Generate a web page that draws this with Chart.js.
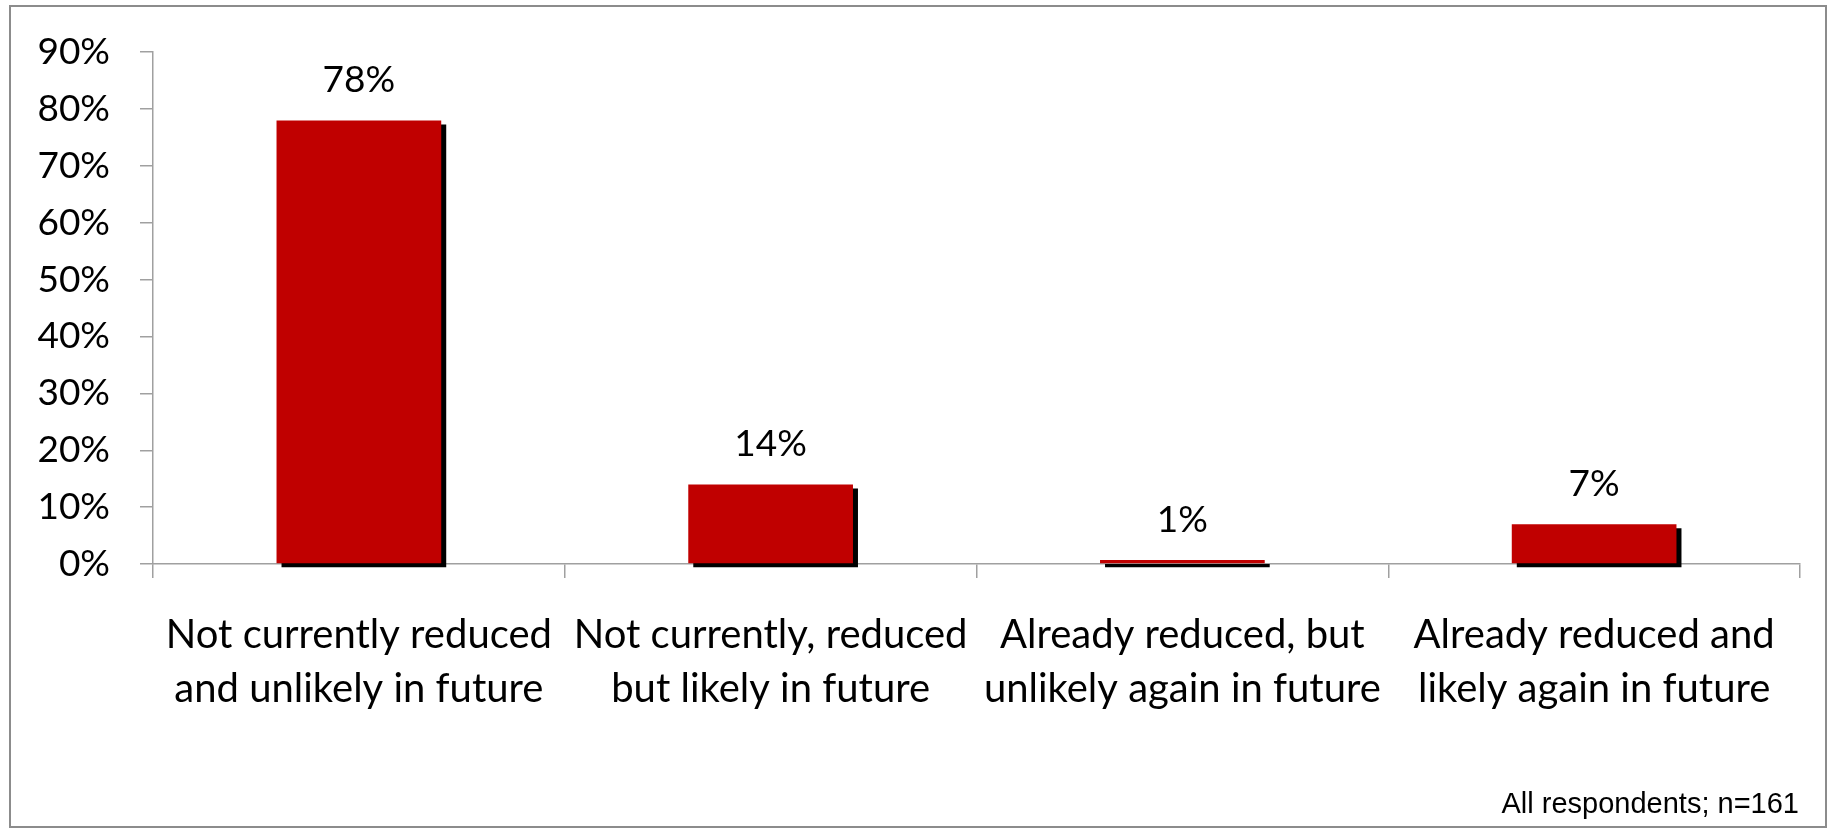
<!DOCTYPE html>
<html>
<head>
<meta charset="utf-8">
<script src="https://cdn.jsdelivr.net/npm/chart.js@4/dist/chart.umd.min.js"></script>
<style>
  html, body { margin: 0; padding: 0; background: #fff; }
  #wrap { position: relative; width: 1833px; height: 833px; }
  #frame { position: absolute; left: 9px; top: 5px; width: 1818px; height: 823px; border: 2px solid #8c8c8c; box-sizing: border-box; pointer-events: none; }
  #note { position: absolute; right: 34px; top: 787px; font: 29px "Liberation Sans", Arial, sans-serif; color: #000; white-space: nowrap; }
</style>
</head>
<body>
<div id="wrap">
  <canvas id="chart" width="1833" height="833"></canvas>
  <div id="frame"></div>
  <div id="note">All respondents; n=161</div>
</div>
<script>
(function () {
  'use strict';

  const categories = [
    ['Not currently reduced', 'and unlikely in future'],
    ['Not currently, reduced', 'but likely in future'],
    ['Already reduced, but', 'unlikely again in future'],
    ['Already reduced and', 'likely again in future'],
  ];
  const shares = [78, 14, 0.7, 7];
  const shareLabels = ['78%', '14%', '1%', '7%'];
  const yTicks = [0, 10, 20, 30, 40, 50, 60, 70, 80, 90];

  const barRed = '#c00000';
  const axisGrey = '#a0a0a0';
  const labelFont = 'Lato';

  // black drop shadow behind the bars, like the office chart
  const barShadow = {
    id: 'barShadow',
    beforeDatasetsDraw(chart) {
      const ctx = chart.ctx;
      ctx.save();
      ctx.shadowColor = '#000';
      ctx.shadowBlur = 0;
      ctx.shadowOffsetX = 5;
      ctx.shadowOffsetY = 4;
    },
    afterDatasetsDraw(chart) {
      chart.ctx.restore();
    },
  };

  const valueLabels = {
    id: 'valueLabels',
    afterDraw(chart) {
      const ctx = chart.ctx;
      const meta = chart.getDatasetMeta(0);
      ctx.save();
      ctx.fillStyle = '#000';
      ctx.font = '37px ' + labelFont;
      ctx.textAlign = 'center';
      ctx.textBaseline = 'alphabetic';
      meta.data.forEach((bar, i) => {
        ctx.fillText(shareLabels[i], bar.x, bar.y - 28);
      });
      ctx.restore();
    },
  };

  new Chart(document.getElementById('chart'), {
    type: 'bar',
    data: {
      labels: categories,
      datasets: [{
        data: shares,
        backgroundColor: barRed,
        borderWidth: 0,
        categoryPercentage: 1,
        barPercentage: 0.4,
        clip: false,
      }],
    },
    options: {
      responsive: false,
      animation: false,
      events: [],
      layout: { padding: { top: 43, right: 33, left: 0, bottom: 0 } },
      plugins: { legend: { display: false }, tooltip: { enabled: false } },
      scales: {
        x: {
          afterFit(scale) { scale.height = 269; },
          grid: {
            offset: true,
            drawOnChartArea: false,
            drawTicks: true,
            tickLength: 14,
            color: axisGrey,
            lineWidth: 1.5,
          },
          border: { color: axisGrey, width: 1.5 },
          ticks: {
            color: '#000',
            padding: 30,
            font: { family: labelFont, size: 40, lineHeight: '54px' },
            maxRotation: 0,
            autoSkip: false,
          },
        },
        y: {
          min: 0,
          max: 90,
          afterFit(scale) { scale.width = 153; },
          afterBuildTicks(scale) { scale.ticks = yTicks.map(v => ({ value: v })); },
          grid: {
            drawOnChartArea: false,
            drawTicks: true,
            tickLength: 13,
            color: axisGrey,
            lineWidth: 1.5,
          },
          border: { color: axisGrey, width: 1.5 },
          ticks: {
            color: '#000',
            padding: 30,
            font: { family: labelFont, size: 37 },
            callback: v => v + '%',
          },
        },
      },
    },
    plugins: [barShadow, valueLabels],
  });
})();
</script>
</body>
</html>
